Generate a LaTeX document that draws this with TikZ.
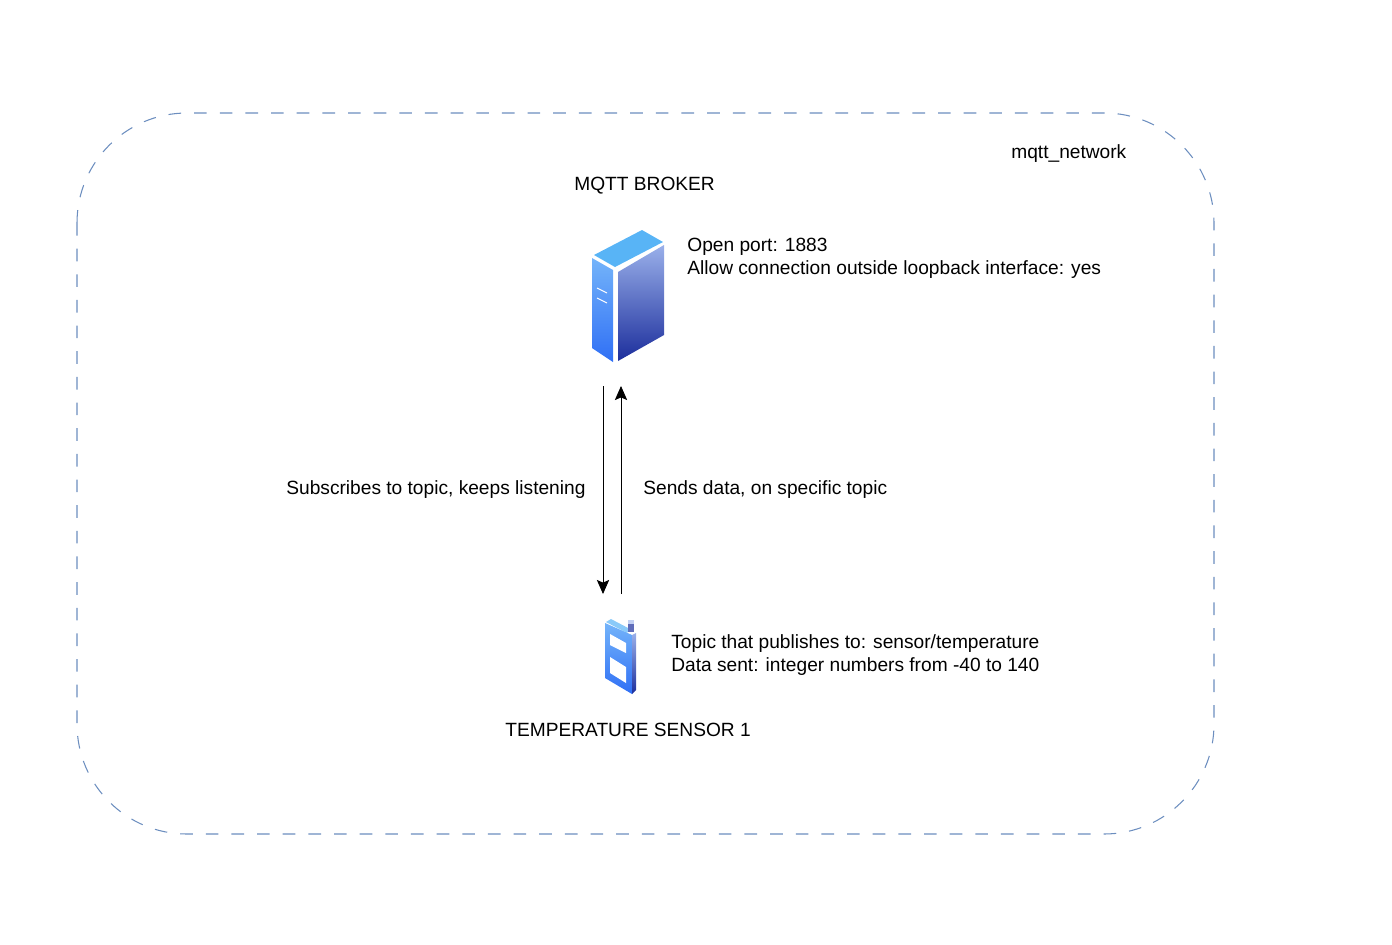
\documentclass[tikz,border=0pt]{standalone}
\usepackage{fontspec}
\usetikzlibrary{arrows.meta}
\setmainfont{Liberation Sans}
\definecolor{netblue}{HTML}{6C8EBF}
\definecolor{srvtop}{HTML}{58B4F6}
\definecolor{srvlefta}{HTML}{74B4FA}
\definecolor{srvleftb}{HTML}{2F6FF5}
\definecolor{srvrighta}{HTML}{9AB0EA}
\definecolor{srvrightb}{HTML}{1C2E9C}
\begin{document}
\begin{tikzpicture}[x=0.02cm, y=-0.02cm,
    label/.style={font=\fontsize{10.9}{13.3}\selectfont, align=left, inner sep=0pt, text=black},
    link/.style={-{Stealth[length=8pt, width=7pt, inset=1.5pt]}, black, line width=0.5pt}]
    \useasboundingbox (0,0) rectangle (1392,944);
    % network boundary
    \draw[netblue, line width=0.6pt, dash pattern=on 7.2pt off 7.4pt, rounded corners=2.2cm] (77,113) rectangle (1214,834);
    \node[label, anchor=west] (network) at (1011,154) {mqtt\_network};
    % broker
    \fill[srvtop] (594,255) -- (642,230) -- (663,242) -- (615,267) -- cycle;
    \shade[top color=srvlefta, bottom color=srvleftb] (592,258) -- (613,270) -- (613,362) -- (592,348) -- cycle;
    \shade[top color=srvrighta, bottom color=srvrightb] (618,272) -- (664,245) -- (664,335) -- (618,361) -- cycle;
    \draw[white, line width=0.6pt] (597,288) -- (607,293) (597,298) -- (607,303);
    \node[label, anchor=west] (broker) at (574,186) {MQTT BROKER};
    \node[label, anchor=west] (brokerinfo) at (687,258) {Open port: 1883\\Allow connection outside loopback interface: yes};
    % arrows
    \coordinate (subtop) at (603,386);
    \coordinate (subbot) at (603,594);
    \coordinate (pubtop) at (621,386);
    \coordinate (pubbot) at (621,594);
    \draw[link] (subtop) -- (subbot);
    \draw[link] (pubbot) -- (pubtop);
    \node[label, anchor=west] (subscribe) at (286,490) {Subscribes to topic, keeps listening};
    \node[label, anchor=west] (publish) at (643,490) {Sends data, on specific topic};
    % sensor
    \fill[srvtop!70!white] (606,622) -- (611,619) -- (630,629) -- (627,633) -- cycle;
    \shade[top color=srvlefta, bottom color=srvleftb] (605,623) -- (632,635) -- (632,694) -- (605,678) -- cycle;
    \shade[top color=srvrighta, bottom color=srvrightb] (632,635) -- (636,633) -- (636,690) -- (632,694) -- cycle;
    \fill[srvrightb!70!white] (628,623) rectangle (634,632);
    \fill[srvrighta!60!white] (628,620) rectangle (634,624);
    \fill[white] (610,634) -- (626,643) -- (626,653) -- (610,645) -- cycle;
    \fill[white] (610,657) -- (626,667) -- (626,683) -- (610,673) -- cycle;
    \node[label, anchor=west] (sensorinfo) at (671,655) {Topic that publishes to: sensor/temperature\\Data sent: integer numbers from -40 to 140};
    \node[label, anchor=west] (sensor) at (505,730) {TEMPERATURE SENSOR 1};
\end{tikzpicture}
\end{document}
